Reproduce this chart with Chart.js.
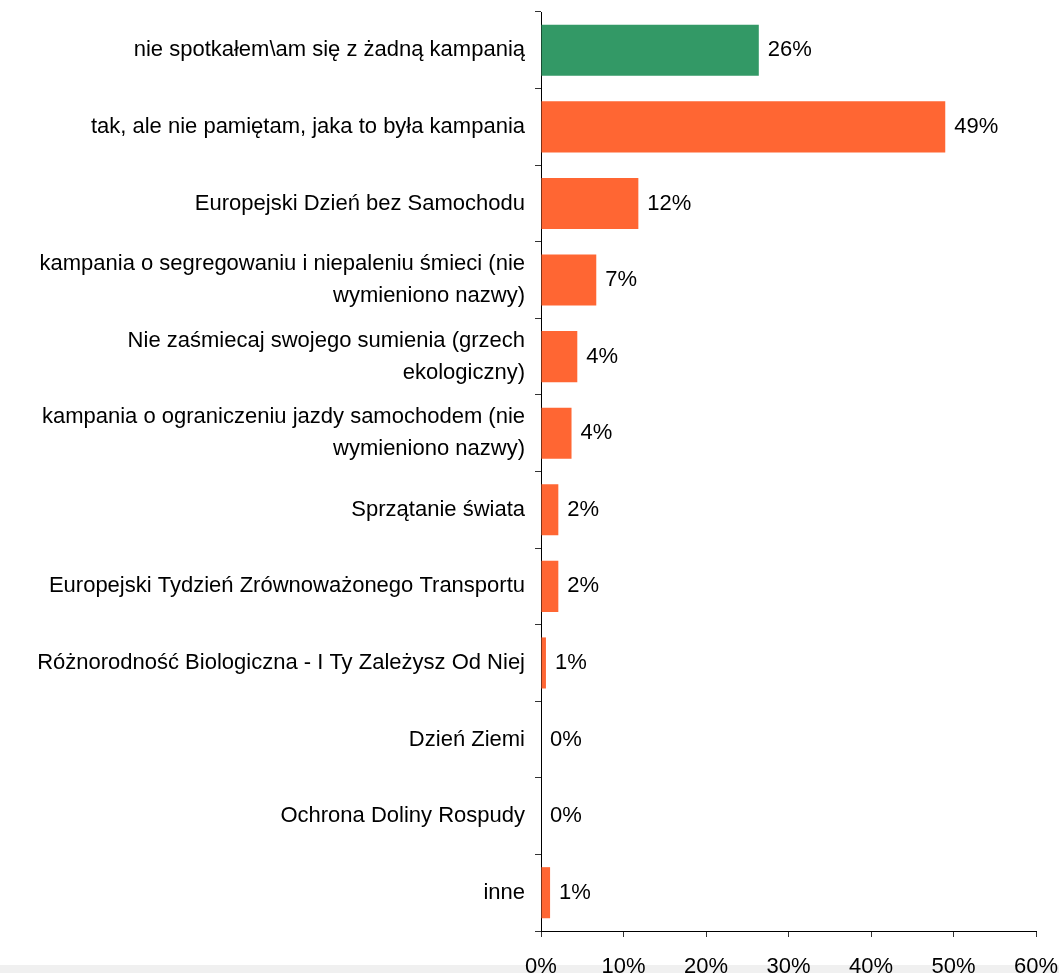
<!DOCTYPE html>
<html>
<head>
<meta charset="utf-8">
<script src="https://cdn.jsdelivr.net/npm/chart.js@4"></script>
<style>
    body { margin: 0; background: #fff; }
    #wrap { position: relative; width: 1059px; height: 973px; }
    #strip { position: absolute; left: 0; right: 0; bottom: 0; height: 8px; background: #f0f0f0; }
    #chart { position: absolute; left: 0; top: 0; }
</style>
</head>
<body>
<div id="wrap">
    <div id="strip"></div>
    <canvas id="chart" width="1059" height="973"></canvas>
</div>
<script>
// Kampanie - odpowiedzi (%)
const categories = [
    "nie spotkałem\\am się z żadną kampanią",
    "tak, ale nie pamiętam, jaka to była kampania",
    "Europejski Dzień bez Samochodu",
    ["kampania o segregowaniu i niepaleniu śmieci (nie", "wymieniono nazwy)"],
    ["Nie zaśmiecaj swojego sumienia (grzech", "ekologiczny)"],
    ["kampania o ograniczeniu jazdy samochodem (nie", "wymieniono nazwy)"],
    "Sprzątanie świata",
    "Europejski Tydzień Zrównoważonego Transportu",
    "Różnorodność Biologiczna - I Ty Zależysz Od Niej",
    "Dzień Ziemi",
    "Ochrona Doliny Rospudy",
    "inne",
];
const values = [26.4, 49.0, 11.8, 6.7, 4.4, 3.7, 2.1, 2.1, 0.6, 0, 0, 1.1];
const xTicks = [0, 10, 20, 30, 40, 50, 60];

const green = "#339966";
const orange = "#ff6633";
const font = "'Liberation Sans', Arial, sans-serif";

// value labels at bar ends
const valueLabels = {
    id: "valueLabels",
    afterDatasetsDraw(chart) {
        const ctx = chart.ctx;
        const meta = chart.getDatasetMeta(0);
        ctx.save();
        ctx.font = "22px " + font;
        ctx.fillStyle = "#000";
        ctx.textBaseline = "middle";
        ctx.textAlign = "left";
        meta.data.forEach((bar, i) => {
            ctx.fillText(Math.round(values[i]) + "%", bar.x + 9, bar.y);
        });
        ctx.restore();
    },
};

new Chart(document.getElementById("chart").getContext("2d"), {
    type: "bar",
    data: {
        labels: categories,
        datasets: [
            {
                data: values,
                backgroundColor: values.map((v, i) => (i === 0 ? green : orange)),
                barPercentage: 0.667,
                categoryPercentage: 1,
            },
        ],
    },
    options: {
        indexAxis: "y",
        responsive: false,
        animation: false,
        layout: { padding: { top: 12, right: 23, left: 0, bottom: 0 } },
        plugins: { legend: { display: false }, tooltip: { enabled: false } },
        scales: {
            x: {
                min: xTicks[0],
                max: xTicks[xTicks.length - 1],
                afterBuildTicks: (s) => { s.ticks = xTicks.map((v) => ({ value: v })); },
                afterFit: (s) => {
                    s.height = 42;
                    s.paddingLeft = 0;
                    s.paddingRight = 0;
                },
                border: { color: "#000", width: 1 },
                grid: { drawOnChartArea: false, tickLength: 6, color: "#333" },
                ticks: {
                    padding: 17,
                    color: "#000",
                    font: { family: font, size: 22 },
                    callback: (v) => v + "%",
                },
            },
            y: {
                afterFit: (s) => {
                    s.width = 541;
                    s.paddingTop = 0;
                    s.paddingBottom = 0;
                },
                border: { color: "#000", width: 1 },
                grid: { drawOnChartArea: false, tickLength: 6, color: "#333", offset: true },
                ticks: {
                    padding: 10,
                    color: "#000",
                    font: { family: font, size: 22, lineHeight: 1.45 },
                },
            },
        },
    },
    plugins: [valueLabels],
});
</script>
</body>
</html>
